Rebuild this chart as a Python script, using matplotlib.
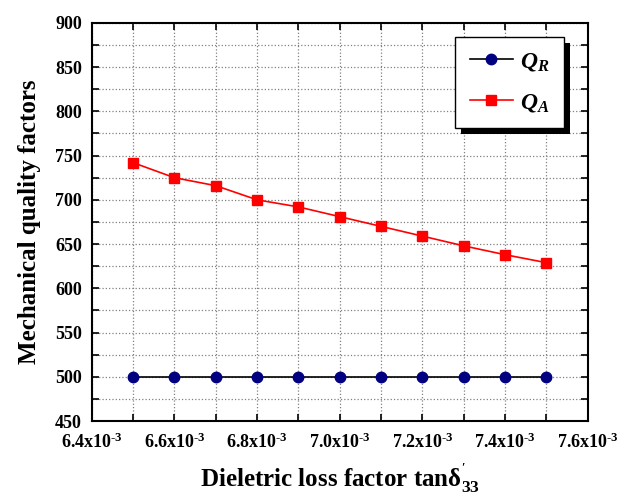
import matplotlib
matplotlib.use('Agg')
import matplotlib.pyplot as plt
from matplotlib.patches import Rectangle
from matplotlib.ticker import MultipleLocator
import numpy as np

plt.rcParams['font.family'] = ['Liberation Serif', 'DejaVu Serif']
plt.rcParams['font.weight'] = 'bold'
plt.rcParams['mathtext.fontset'] = 'custom'
plt.rcParams['mathtext.rm'] = 'Liberation Serif:bold'
plt.rcParams['mathtext.bf'] = 'Liberation Serif:bold'
plt.rcParams['mathtext.it'] = 'Liberation Serif:italic:bold'

# tan delta values (x1e-3)
tan_delta = [6.5, 6.6, 6.7, 6.8, 6.9, 7.0, 7.1, 7.2, 7.3, 7.4, 7.5]
Q_R = [500, 500, 500, 500, 500, 500, 500, 500, 500, 500, 500]
Q_A = [742, 725, 716, 700, 692, 681, 670, 659, 648, 638, 629]
xticks = [6.4, 6.6, 6.8, 7.0, 7.2, 7.4, 7.6]

fig = plt.figure(figsize=(6.2, 4.96), dpi=100)
ax = fig.add_axes([0.148, 0.151, 0.8, 0.803])

ax.plot(tan_delta, Q_R, '-o', color='black', markerfacecolor='navy', markeredgecolor='navy',
        markersize=7.5, lw=1.2, label=r'$\mathit{Q_R}$', zorder=3)
ax.plot(tan_delta, Q_A, '-s', color='red', markersize=7, lw=1.2, label=r'$\mathit{Q_A}$', zorder=3)

ax.set_xlim(6.4, 7.6)
ax.set_ylim(450, 900)
ax.set_xticks(xticks)
ax.set_xticklabels([r'%.1fx10$^{\text{-3}}$' % v for v in xticks], fontsize=13)
ax.xaxis.set_minor_locator(MultipleLocator(0.1))
ax.yaxis.set_major_locator(MultipleLocator(50))
ax.yaxis.set_minor_locator(MultipleLocator(25))
ax.tick_params(which='both', direction='in', top=True, right=True, width=1.2, length=5)
ax.tick_params(axis='x', which='major', pad=8)
ax.tick_params(axis='y', which='major', labelsize=13, pad=7)
ax.grid(which='both', linestyle=':', color='gray', lw=0.9)
for s in ax.spines.values():
    s.set_linewidth(1.5)

ax.set_ylabel('Mechanical quality factors', fontsize=18, fontweight='bold', labelpad=10)
ax.set_xlabel(r"Dieletric loss factor tan$\mathrm{\delta}^{'}_{33}$", fontsize=18,
              fontweight='bold', labelpad=7)

leg = ax.legend(loc='upper right', bbox_to_anchor=(0.952, 0.965), borderaxespad=0,
                fontsize=17, fancybox=False, edgecolor='black', framealpha=1,
                handlelength=1.85, handletextpad=0.3, borderpad=0.6, labelspacing=0.8)
leg.get_frame().set_linewidth(1.0)
leg.set_zorder(6)

fig.canvas.draw()
bb = leg.get_window_extent()
shadow = Rectangle((bb.x0 + 6, bb.y0 - 6), bb.width, bb.height, transform=None,
                   facecolor='black', edgecolor='none', zorder=5, clip_on=False)
ax.add_artist(shadow)

fig.savefig('out.png', dpi=100)
